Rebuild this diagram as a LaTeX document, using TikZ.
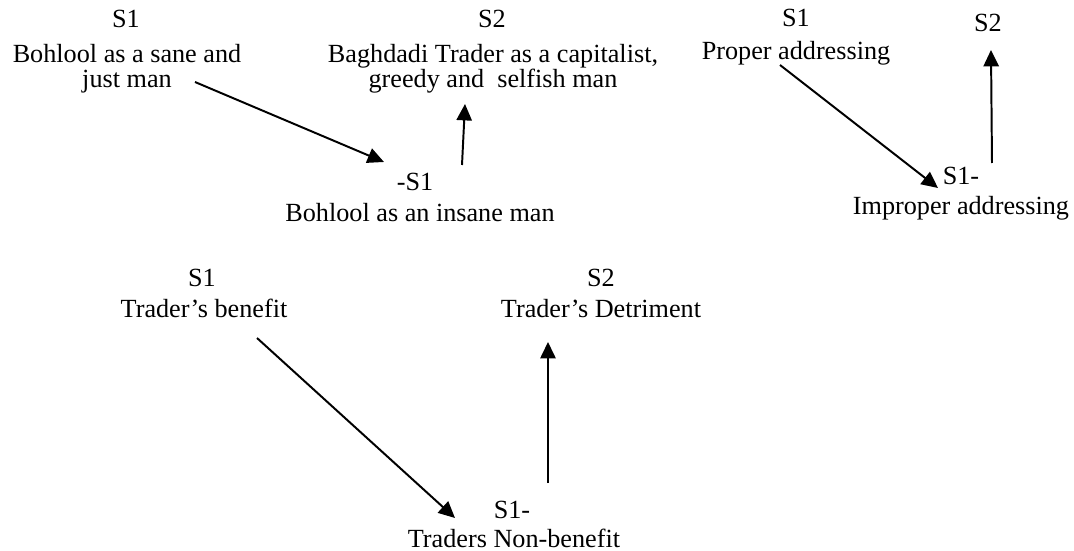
\documentclass[tikz,border=0pt]{standalone}
\usepackage{fontspec}
\setmainfont{Liberation Serif}
\usetikzlibrary{arrows.meta}

\tikzset{
    lbl/.style={anchor=base, inner sep=0pt, align=center, font=\fontsize{12}{11.9}\selectfont},
    arr/.style={-{Triangle[length=7.5pt,width=7pt]}, line width=0.9pt}
}

\begin{document}
\begin{tikzpicture}[x=0.458pt, y=-0.458pt]
            \useasboundingbox (0,0) rectangle (1074,551);

            % Bohlool
            \node[lbl] (s1Sane) at (126,28) {S1};
            \node[lbl] (sane) at (127,88) {Bohlool as a sane and\\just man};
            \node[lbl] (s2Trader) at (492,28) {S2};
            \node[lbl] (trader) at (493,88) {Baghdadi Trader as a capitalist,\\greedy and\ \ selfish man};
            \node[lbl] (negS1) at (415,191) {-S1};
            \node[lbl] (insane) at (420,221) {Bohlool as an insane man};

            \draw[arr] ([shift={(68,-6)}]sane.base) -- ([shift={(-31,-29)}]negS1.base);
            \draw[arr] ([shift={(42,-56)}]insane.base) -- ([shift={(-28,16)}]trader.base);

            % addressing
            \node[lbl] (s1Proper) at (796,27) {S1};
            \node[lbl] (proper) at (796,60) {Proper addressing};
            \node[lbl] (s2Imp) at (988,32) {S2};
            \node[lbl] (s1Imp) at (961,185) {S1-};
            \node[lbl] (improper) at (961,215) {Improper addressing};

            \draw[arr] ([shift={(-16,5)}]proper.base) -- ([shift={(-23,3)}]s1Imp.base);
            \draw[arr] ([shift={(31,-22)}]s1Imp.base) -- ([shift={(3,18)}]s2Imp.base);

            % benefit
            \node[lbl] (s1Ben) at (202,287) {S1};
            \node[lbl] (benefit) at (204,318) {Trader's benefit};
            \node[lbl] (s2Det) at (601,287) {S2};
            \node[lbl] (detriment) at (601,318) {Trader's Detriment};
            \node[lbl] (s1Non) at (512,518) {S1-};
            \node[lbl] (nonbenefit) at (514,548) {Traders Non-benefit};

            \draw[arr] ([shift={(53,20)}]benefit.base) -- ([shift={(-57,0)}]s1Non.base);
            \draw[arr] ([shift={(36,-35)}]s1Non.base) -- ([shift={(-53,24)}]detriment.base);
        \end{tikzpicture}
\end{document}
